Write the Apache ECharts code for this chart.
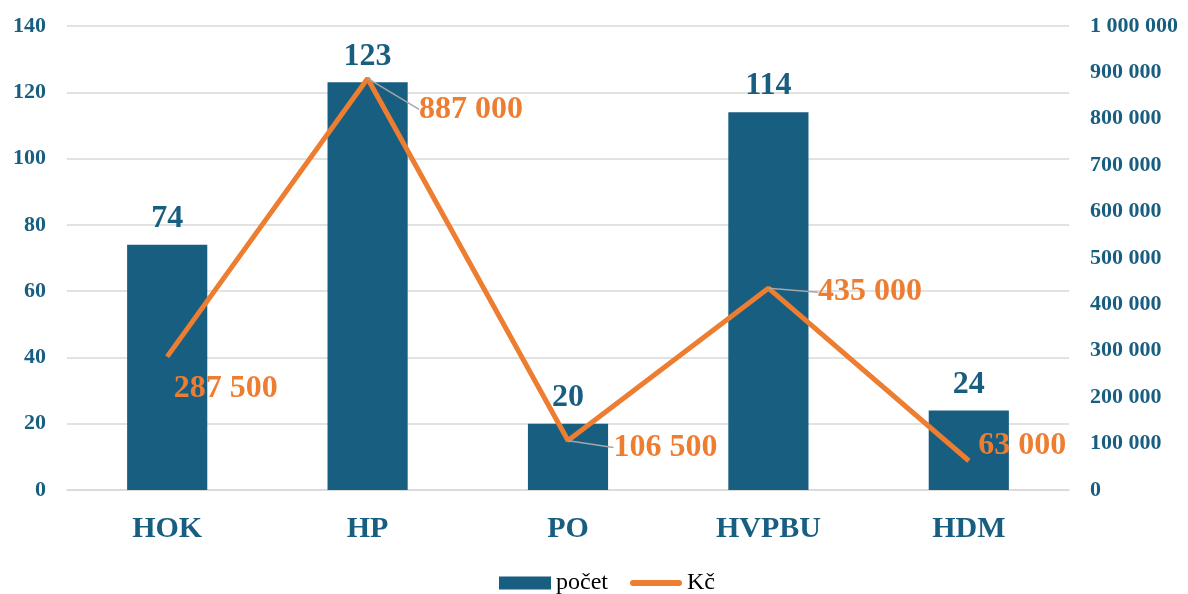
<!DOCTYPE html>
<html>
<head>
<meta charset="utf-8">
<script src="https://cdn.jsdelivr.net/npm/echarts@6/dist/echarts.min.js"></script>
<style>html,body{margin:0;padding:0;background:#fff}#c{width:1188px;height:594px}</style>
</head>
<body>
<div id="c"></div>
<script>
const categories = ['HOK', 'HP', 'PO', 'HVPBU', 'HDM'];
const pocet = [74, 123, 20, 114, 24];
const kc = [287500, 887000, 106500, 435000, 63000];
const leftTicks = { min: 0, max: 140, interval: 20 };
const rightTicks = { min: 0, max: 1000000, interval: 100000 };
const labelShift = [[0, 32], [45, 31], [39, 7], [43, 4], [3, -15]];
const showLeader = [false, true, true, true, false];

const BLUE = '#185E80';
const ORANGE = '#ED7D31';
const FONT = '"Liberation Serif", "Times New Roman", serif';
const fmt = v => String(v).replace(/\B(?=(\d{3})+(?!\d))/g, ' ');

const chart = echarts.init(document.getElementById('c'));
chart.setOption({
  animation: false,
  textStyle: { fontFamily: FONT },
  grid: { left: 67, right: 119, top: 26, bottom: 104 },
  legend: {
    bottom: -6, left: 494, itemWidth: 52, itemHeight: 13, itemGap: 22,
    textStyle: { fontFamily: FONT, fontSize: 24, color: '#000' },
    data: [
      { name: 'počet', icon: 'rect' },
      { name: 'Kč', icon: 'path://M3,0 L49,0 A3,3 0 0 1 49,6 L3,6 A3,3 0 0 1 3,0 Z', itemStyle: { color: ORANGE } }
    ]
  },
  xAxis: {
    type: 'category', data: categories,
    axisLine: { show: true, lineStyle: { color: '#d9d9d9', width: 1.5 } },
    axisTick: { show: false },
    axisLabel: { fontFamily: FONT, fontSize: 30, fontWeight: 'bold', color: BLUE, margin: 24 }
  },
  yAxis: [
    {
      type: 'value', ...leftTicks,
      axisLine: { show: false }, axisTick: { show: false },
      splitLine: { lineStyle: { color: '#d9d9d9', width: 1.5 } },
      axisLabel: { fontFamily: FONT, fontSize: 22, fontWeight: 'bold', color: BLUE, margin: 21 }
    },
    {
      type: 'value', ...rightTicks,
      axisLine: { show: false }, axisTick: { show: false },
      splitLine: { show: false },
      axisLabel: { fontFamily: FONT, fontSize: 22, fontWeight: 'bold', color: BLUE, margin: 21, formatter: fmt }
    }
  ],
  series: [
    {
      name: 'počet', type: 'bar', data: pocet, barWidth: '40%',
      itemStyle: { color: BLUE },
      label: { show: true, position: 'top', distance: 10, fontFamily: FONT, fontSize: 32, fontWeight: 'bold', color: BLUE }
    },
    {
      name: 'Kč', type: 'line', yAxisIndex: 1,
      data: kc.map((v, i) => ({ value: v, labelLine: { show: showLeader[i] } })),
      symbol: 'circle', symbolSize: 1, showSymbol: true,
      lineStyle: { color: ORANGE, width: 5 },
      itemStyle: { color: ORANGE },
      label: {
        show: true, position: 'right', distance: 6,
        fontFamily: FONT, fontSize: 32, fontWeight: 'bold', color: ORANGE, formatter: p => fmt(p.value)
      },
      labelLine: { show: true, lineStyle: { color: '#a6a6a6', width: 1.5 } },
      labelLayout: p => ({ dx: labelShift[p.dataIndex][0], dy: labelShift[p.dataIndex][1] })
    }
  ]
});
</script>
</body>
</html>
